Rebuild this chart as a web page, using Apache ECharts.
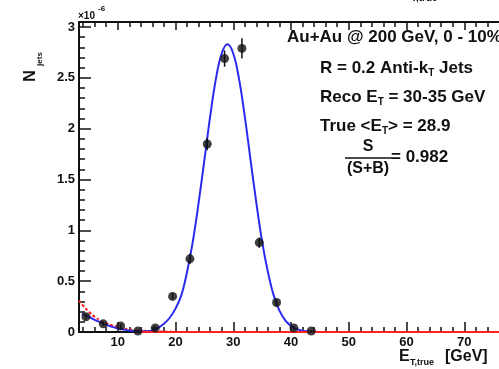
<!DOCTYPE html>
<html>
<head>
  <meta charset="UTF-8">
  <title>Jet E_T,true distribution</title>
  <script src="https://cdn.jsdelivr.net/npm/echarts/dist/echarts.min.js"></script>
  <style>
    html, body { margin: 0; padding: 0; background: #fff; }
  </style>
</head>
<body>
  <div id="main" style="width: 499px; height: 369px;"></div>

  <script>
    // measured points (units of 1e-6)
    const binCenters = [4.5, 7.5, 10.5, 13.5, 16.5, 19.5, 22.5, 25.5, 28.5, 31.5, 34.5, 37.5, 40.5, 43.5];
    const counts = [0.15, 0.08, 0.06, 0.01, 0.04, 0.35, 0.72, 1.85, 2.69, 2.79, 0.88, 0.29, 0.04, 0.01];
    const errors = [0.03, 0.02, 0.02, 0.01, 0.02, 0.03, 0.05, 0.06, 0.08, 0.1, 0.05, 0.03, 0.02, 0.01];

    // blue fit curve
    const fitX = [3.8, 5, 6, 7, 8, 9, 10, 11, 12, 13, 14, 15, 16, 17, 18, 19, 20, 21, 22, 23, 24, 25, 26, 27, 28, 29,
                  30, 31, 32, 33, 34, 35, 36, 37, 38, 39, 40, 41, 42, 43, 45, 50, 60, 76];
    const fitY = [0.18, 0.15, 0.12, 0.095, 0.07, 0.05, 0.035, 0.025, 0.015, 0.01, 0.007, 0.008, 0.016, 0.04, 0.08, 0.14, 0.23, 0.36, 0.59, 0.89, 1.27, 1.69, 2.12, 2.49, 2.74, 2.83,
                  2.74, 2.49, 2.12, 1.69, 1.27, 0.89, 0.59, 0.36, 0.21, 0.115, 0.06, 0.028, 0.012, 0.005, 0.001, 0, 0, 0];

    // red dashed background curve
    const bkgX = [3.3, 4, 5, 6, 7, 8, 9, 10, 11, 12, 13, 14, 15, 17, 20];
    const bkgY = [0.31, 0.26, 0.2, 0.15, 0.115, 0.085, 0.065, 0.048, 0.035, 0.026, 0.019, 0.014, 0.01, 0.005, 0.002];
    const zeroX = [14, 76];

    const xMajor = [10, 20, 30, 40, 50, 60, 70];
    const xMinor = [4, 6, 8, 12, 14, 16, 18, 22, 24, 26, 28, 32, 34, 36, 38, 42, 44, 46, 48, 52, 54, 56, 58, 62, 64, 66, 68, 72, 74];
    const yMajor = [0, 0.5, 1, 1.5, 2, 2.5, 3];
    const yMinor = [0.1, 0.2, 0.3, 0.4, 0.6, 0.7, 0.8, 0.9, 1.1, 1.2, 1.3, 1.4, 1.6, 1.7, 1.8, 1.9,
                    2.1, 2.2, 2.3, 2.4, 2.6, 2.7, 2.8, 2.9];

    const font = '"Liberation Sans", Arial, Helvetica, sans-serif';
    const black = '#111';

    const points = binCenters.map((x, i) => [x, counts[i]]);
    const bars = binCenters.map((x, i) => [x, counts[i] - errors[i], counts[i] + errors[i]]);
    const fitData = fitX.map((x, i) => [x, fitY[i]]);
    const bkgData = bkgX.map((x, i) => [x, bkgY[i]]);

    const xBase = { type: 'value', min: 3.3, max: 76, splitLine: { show: false } };
    const yBase = { type: 'value', min: 0, max: 3.05, splitLine: { show: false } };

    function xAxis(pos, vals, len, withLine, withLabel) {
      return Object.assign({}, xBase, {
        position: pos,
        axisLine: { show: withLine, onZero: false, lineStyle: { color: black, width: 2 } },
        axisTick: { show: true, inside: true, length: len, customValues: vals, lineStyle: { color: black, width: 1.5 } },
        axisLabel: withLabel ? {
          show: true, customValues: vals, margin: 4, color: black,
          fontFamily: font, fontWeight: 'bold', fontSize: 13
        } : { show: false }
      });
    }

    function yAxis(vals, len, withLine, withLabel) {
      return Object.assign({}, yBase, {
        position: 'left',
        axisLine: { show: withLine, onZero: false, lineStyle: { color: black, width: 2 } },
        axisTick: { show: true, inside: true, length: len, customValues: vals, lineStyle: { color: black, width: 1.5 } },
        axisLabel: withLabel ? {
          show: true, customValues: vals, margin: 4, color: black,
          fontFamily: font, fontWeight: 'bold', fontSize: 13,
          formatter: v => String(v)
        } : { show: false }
      });
    }

    const txt = (x, y, text, size, extra) => ({
      type: 'text', x: x, y: y, silent: true,
      style: Object.assign({
        text: text, fill: black, font: 'bold ' + size + 'px ' + font,
        textVerticalAlign: 'middle'
      }, extra || {})
    });

    const rich = {
      n: { fontSize: 17, fontWeight: 'bold', fontFamily: font, fill: black },
      s: { fontSize: 10, fontWeight: 'bold', fontFamily: font, fill: black, padding: [11, 0, 0, 0] }
    };
    const richTxt = (x, y, text) => ({
      type: 'text', x: x, y: y, silent: true,
      style: { text: text, rich: rich, fill: black, textVerticalAlign: 'middle' }
    });

    const yTitle = txt(31, 76, 'N', 16, { textAlign: 'center' });
    yTitle.rotation = Math.PI / 2;
    const yTitleSub = txt(40, 59, 'jets', 8, { textAlign: 'center' });
    yTitleSub.rotation = Math.PI / 2;

    const option = {
      animation: false,
      grid: { left: 79, top: 22, right: 0, bottom: 37, containLabel: false },
      xAxis: [
        xAxis('bottom', xMajor, 10, true, true),
        xAxis('bottom', xMinor, 5, false, false),
        xAxis('top', xMajor, 8, true, false),
        xAxis('top', xMinor, 5, false, false)
      ],
      yAxis: [
        yAxis(yMajor, 12, true, true),
        yAxis(yMinor, 6, false, false)
      ],
      series: [
        {
          type: 'line', data: bkgData, smooth: true, showSymbol: false, z: 3,
          lineStyle: { color: '#ff2020', width: 2, type: [3, 2] }
        },
        {
          type: 'line', data: fitData, smooth: 0.4, showSymbol: false, z: 4,
          lineStyle: { color: '#2b2bf0', width: 2 }
        },
        {
          type: 'line', data: zeroX.map(x => [x, 0]), showSymbol: false, z: 4,
          lineStyle: { color: '#ff2020', width: 2 }
        },
        {
          type: 'custom', data: bars, z: 5,
          renderItem: (params, api) => {
            const lo = api.coord([api.value(0), api.value(1)]);
            const hi = api.coord([api.value(0), api.value(2)]);
            return {
              type: 'line',
              shape: { x1: lo[0], y1: lo[1], x2: hi[0], y2: hi[1] },
              style: { stroke: black, lineWidth: 1.5 }
            };
          }
        },
        {
          type: 'scatter', data: points, symbol: 'circle', symbolSize: 9, z: 6,
          itemStyle: { color: black }
        }
      ],
      graphic: [
        // axis multiplier and titles
        txt(78, 16, '\u00d710', 10),
        txt(98, 9, '-6', 8),
        yTitle,
        yTitleSub,
        txt(399, 357, 'E', 16),
        txt(410, 363, 'T,true', 9),
        txt(445, 357, '[GeV]', 16),
        txt(411, -2, 'T,true', 10),
        // legend text
        txt(287, 37, 'Au+Au @ 200 GeV, 0 - 10%', 17),
        richTxt(320, 68, '{n|R = 0.2 Anti-k}{s|T}{n| Jets}'),
        richTxt(320, 97, '{n|Reco E}{s|T}{n| = 30-35 GeV}'),
        richTxt(320, 126, '{n|True <E}{s|T}{n|> = 28.9}'),
        txt(368, 147, 'S', 16, { textAlign: 'center' }),
        {
          type: 'line', silent: true,
          shape: { x1: 345, y1: 158, x2: 392, y2: 158 },
          style: { stroke: black, lineWidth: 1.5 }
        },
        txt(368, 169, '(S+B)', 16, { textAlign: 'center' }),
        txt(391, 157, '= 0.982', 17)
      ]
    };

    const chart = echarts.init(document.getElementById('main'));
    chart.setOption(option);
  </script>
</body>
</html>
